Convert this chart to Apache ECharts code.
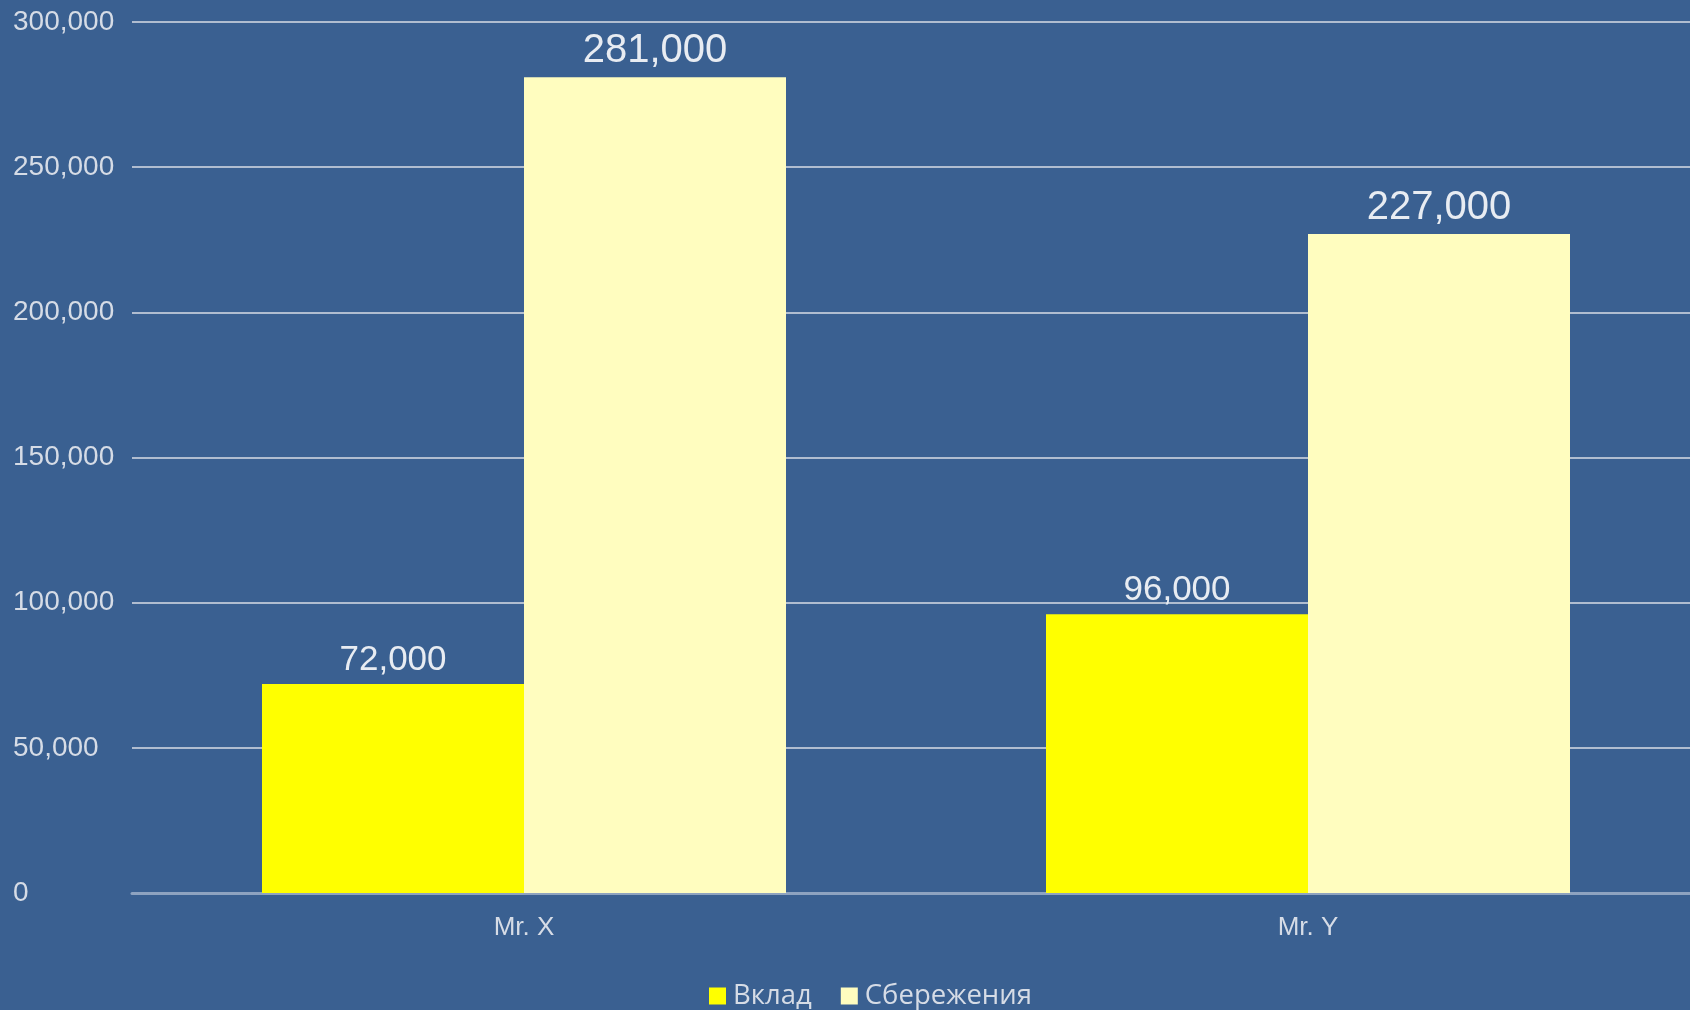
<!DOCTYPE html>
<html>
<head>
<meta charset="utf-8">
<script src="https://cdn.jsdelivr.net/npm/echarts@6/dist/echarts.min.js"></script>
<style>
html, body { margin: 0; padding: 0; background: #3a6091; }
#chart { width: 1690px; height: 1010px; }
</style>
</head>
<body>
<div id="chart"></div>
<script>
var categories = ['Mr. X', 'Mr. Y'];
var seriesNames = ['Вклад', 'Сбережения'];
var depositValues = [72000, 96000];
var savingsValues = [281000, 227000];
var yTicks = [0, 50000, 100000, 150000, 200000, 250000, 300000];

var fmt = function (v) {
	return String(v).replace(/\B(?=(\d{3})+(?!\d))/g, ',');
};

var myChart = echarts.init(document.getElementById('chart'));
var option = {
	backgroundColor : '#3a6091',
	textStyle : { fontFamily : 'Liberation Sans' },
	animation : false,
	grid : {
		left : 132,
		right : -10,
		top : 22,
		bottom : 117,
		outerBoundsMode : 'none'
	},
	legend : {
		data : seriesNames,
		left : 709,
		top : 982,
		padding : 0,
		itemWidth : 17,
		itemHeight : 17,
		itemGap : 29,
		icon : 'rect',
		textStyle : { color : '#d6dce6', fontSize : 27.5, fontFamily : 'Open Sans', padding : [2, 0, 0, 2] }
	},
	xAxis : {
		type : 'category',
		data : categories,
		axisTick : { show : false },
		axisLine : { lineStyle : { color : '#8ea3c0', width : 3 } },
		axisLabel : { color : '#d6dce6', fontSize : 26, margin : 22 }
	},
	yAxis : {
		type : 'value',
		min : yTicks[0],
		max : yTicks[yTicks.length - 1],
		interval : yTicks[1] - yTicks[0],
		axisLabel : {
			color : '#d6dce6',
			fontSize : 28,
			align : 'left',
			margin : 119,
			padding : [4, 0, 0, 0],
			formatter : fmt
		},
		splitLine : { lineStyle : { color : '#b0bdd0', width : 2 } }
	},
	series : [ {
		name : seriesNames[0],
		type : 'bar',
		data : depositValues,
		barWidth : 262,
		barGap : '0%',
		itemStyle : { color : '#ffff00' },
		label : {
			show : true,
			position : 'top',
			distance : 6,
			color : '#e8ecf2',
			fontSize : 35,
			formatter : function (p) { return fmt(p.value); }
		}
	}, {
		name : seriesNames[1],
		type : 'bar',
		data : savingsValues,
		barWidth : 262,
		itemStyle : { color : '#fffdbf' },
		label : {
			show : true,
			position : 'top',
			distance : 6,
			color : '#e8ecf2',
			fontSize : 40,
			formatter : function (p) { return fmt(p.value); }
		}
	} ]
};
myChart.setOption(option);
</script>
</body>
</html>
